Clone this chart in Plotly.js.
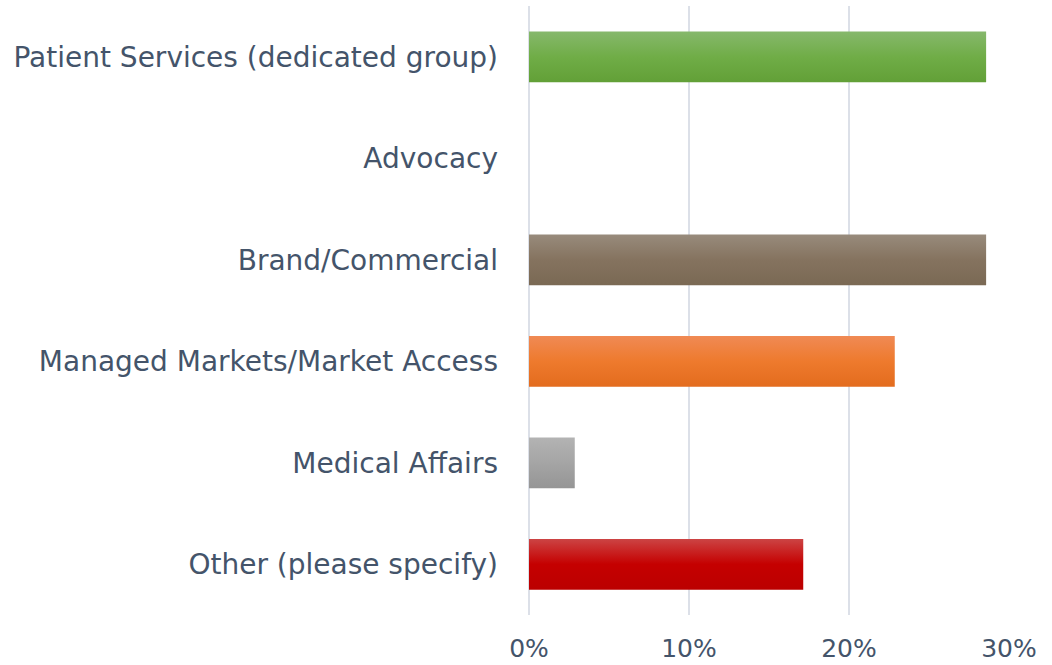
<!DOCTYPE html>
<html>
<head>
<meta charset="utf-8">
<script src="https://cdn.plot.ly/plotly-3.0.1.min.js"></script>
<style>html,body{margin:0;padding:0;background:#fff;}#chart{width:1052px;height:665px;}</style>
</head>
<body>
<div id="chart"></div>
<script>
const categories = [
  "Patient Services (dedicated group)",
  "Advocacy",
  "Brand/Commercial",
  "Managed Markets/Market Access",
  "Medical Affairs",
  "Other (please specify)"
];
const values = [0.2857, 0, 0.2857, 0.2286, 0.0286, 0.1714];
const barColors = ["#70AD47", "#A5A5A5", "#85735F", "#EE7A2D", "#A5A5A5", "#C50000"];
const gradientStops = [
  ["#86B86C", "#70AD47", "#62A037"],
  ["#B3B3B3", "#A5A5A5", "#959595"],
  ["#988B7C", "#85735F", "#7A6954"],
  ["#F08A55", "#EE7A2D", "#E36C1E"],
  ["#B3B3B3", "#A5A5A5", "#959595"],
  ["#CC4444", "#C50000", "#BB0000"]
];
const xTickVals = [0, 0.1, 0.2, 0.3];
const xTickText = ["0%", "10%", "20%", "30%"];

const textColor = "#44546A";
const font = "DejaVu Sans, Verdana, sans-serif";

const trace = {
  type: "bar",
  orientation: "h",
  y: categories,
  x: values,
  marker: {color: barColors, line: {width: 0}},
  hoverinfo: "none"
};

const layout = {
  width: 1052, height: 665,
  margin: {l: 529, r: 43, t: 6, b: 50, pad: 0},
  paper_bgcolor: "#ffffff", plot_bgcolor: "#ffffff",
  bargap: 0.5,
  showlegend: false,
  font: {family: font, color: textColor},
  xaxis: {
    range: [0, 0.3],
    tickvals: xTickVals, ticktext: xTickText,
    showgrid: true, gridcolor: "#DCE0E8", gridwidth: 2,
    zeroline: true, zerolinecolor: "#DCE0E8", zerolinewidth: 2,
    showline: false, ticks: "",
    ticklabelstandoff: 16,
    tickfont: {family: font, size: 25, color: textColor}
  },
  yaxis: {
    autorange: "reversed",
    showgrid: false, zeroline: false, showline: false, ticks: "",
    ticklabelstandoff: 30,
    tickfont: {family: font, size: 28, color: textColor}
  }
};

Plotly.newPlot("chart", [trace], layout, {staticPlot: true, displayModeBar: false}).then(function (gd) {
  const svg = gd.querySelector("svg.main-svg");
  const ns = "http://www.w3.org/2000/svg";
  let defs = svg.querySelector("defs");
  if (!defs) { defs = document.createElementNS(ns, "defs"); svg.insertBefore(defs, svg.firstChild); }
  gradientStops.forEach(function (stops, i) {
    const lg = document.createElementNS(ns, "linearGradient");
    lg.setAttribute("id", "barGrad" + i);
    lg.setAttribute("x1", "0"); lg.setAttribute("y1", "0");
    lg.setAttribute("x2", "0"); lg.setAttribute("y2", "1");
    [[0, stops[0]], [0.5, stops[1]], [1, stops[2]]].forEach(function (s) {
      const st = document.createElementNS(ns, "stop");
      st.setAttribute("offset", s[0]);
      st.setAttribute("stop-color", s[1]);
      lg.appendChild(st);
    });
    defs.appendChild(lg);
  });
  const points = gd.querySelectorAll(".trace.bars .point");
  points.forEach(function (pt) {
    const d = pt.__data__;
    const idx = d && typeof d.i === "number" ? d.i : null;
    const path = pt.querySelector("path");
    if (path && idx !== null && idx < gradientStops.length) {
      path.style.fill = "url(#barGrad" + idx + ")";
    }
  });
});
</script>
</body>
</html>
